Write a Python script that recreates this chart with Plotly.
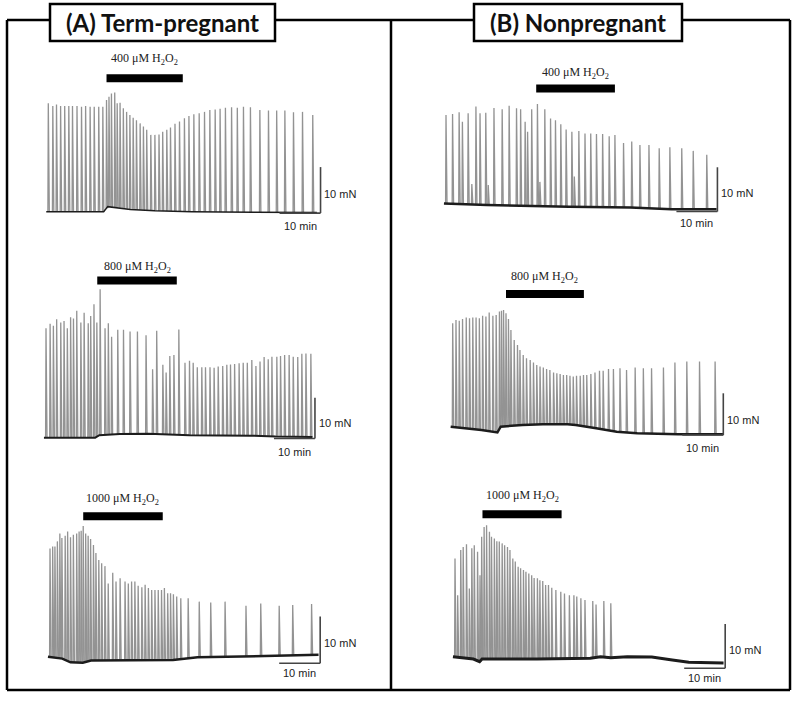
import numpy as np
import plotly.graph_objects as go

W, H = 799, 701

# ---------------- data (time in min, force in mN) ----------------
DOSES = ["400", "800", "1000"]
GROUPS = ["(A) Term-pregnant", "(B) Nonpregnant"]

A1_t = [0, 1.1, 2.0, 3.0, 4.0, 5.0, 5.9, 7.0, 8.1, 9.1, 10.2, 11.2, 12.3, 13.3, 14.2, 14.8, 15.4, 16.2, 16.8, 17.5,
        18.3, 19.1, 19.9, 20.7, 21.5, 22.4, 23.2, 24.0, 25.0, 26.0, 27.0, 27.9, 28.9, 29.8, 30.9, 32.0, 33.2, 34.3, 35.5, 36.8,
        38.1, 39.4, 40.7, 41.9, 43.2, 44.7, 46.1, 47.6, 49.3, 51.6, 53.7, 55.7, 57.7, 59.8, 62.0, 64.5]
A1_peak = [23.6, 23.0, 23.3, 23.0, 23.0, 23.0, 23.0, 23.0, 22.8, 23.0, 22.8, 22.8, 22.8, 22.8, 24.3, 25.0, 25.7, 25.9, 23.6, 23.7,
           22.5, 21.7, 21.0, 20.4, 19.9, 19.2, 18.5, 17.8, 16.7, 16.7, 16.8, 17.4, 17.8, 18.3, 19.1, 19.6, 20.3, 20.8, 21.2, 21.4,
           21.7, 22.1, 22.2, 22.4, 22.6, 22.7, 22.6, 22.8, 22.7, 22.1, 22.0, 22.0, 22.0, 21.6, 21.7, 21.0]
A1_base_t = [-0.5, 13.5, 14.5, 17, 20, 26, 35, 50, 65.5]
A1_base = [0, 0, 1.1, 0.9, 0.5, 0.2, 0, -0.1, -0.2]
A1_drug = [14.2, 32.8]

A2_t = [0, 1.0, 1.8, 2.6, 3.6, 4.4, 5.2, 6.0, 6.7, 7.5, 8.5, 9.3, 10.3, 10.9, 11.7, 12.4, 13.2, 14.4, 15.2, 16.0,
        17.5, 18.9, 20.5, 22.3, 24.4, 26.0, 27.0, 28.5, 29.3, 30.2, 31.2, 32.4, 33.9, 35.0, 35.9, 36.9, 38.0, 38.9, 40.0, 41.0,
        42.0, 43.1, 44.1, 45.0, 46.0, 47.1, 48.1, 49.1, 50.2, 51.2, 52.2, 53.2, 54.2, 55.1, 56.3, 57.2, 58.2, 59.3, 60.3, 61.4,
        62.4, 63.4, 64.6]
A2_peak = [26.9, 28.0, 27.5, 29.1, 28.3, 28.7, 26.9, 29.6, 29.3, 31.2, 28.3, 30.7, 28.1, 29.9, 32.8, 28.3, 36.5, 26.9, 28.1, 24.8,
           26.5, 26.5, 26.1, 26.1, 25.2, 16.8, 26.3, 17.9, 16.0, 20.1, 20.3, 26.6, 18.4, 18.9, 18.4, 17.3, 17.3, 17.3, 17.3, 17.2,
           17.5, 17.6, 17.9, 18.0, 18.1, 18.3, 18.4, 18.4, 19.1, 17.6, 18.7, 19.8, 19.3, 19.9, 19.9, 20.1, 20.3, 20.3, 19.9, 19.8,
           20.6, 20.7, 20.6]
A2_base_t = [-0.5, 12, 13, 18, 25, 30, 35, 50, 56, 65]
A2_base = [0, 0, 0.6, 0.9, 1.0, 0.8, 0.6, 0.5, 0.3, 0.2]
A2_drug = [12.5, 31.9]

A3_t = [0, 0.65, 1.2, 1.8, 2.4, 2.9, 3.7, 4.3, 5.0, 5.7, 6.5, 7.1, 7.6, 8.1, 8.7, 9.3, 9.9, 10.6, 11.2, 11.9,
        12.6, 13.4, 14.2, 15.3, 16.1, 17.1, 18.3, 19.1, 19.9, 20.7, 21.5, 22.4, 23.2, 24.0, 24.8, 25.6, 26.4, 27.2, 27.9, 28.7,
        29.4, 30.1, 30.9, 31.9, 33.7, 36.4, 39.2, 42.7, 47.8, 51.4, 55.9, 59.2, 63.8]
A3_peak = [23.9, 24.3, 24.3, 25.4, 27.1, 26.1, 26.6, 27.5, 26.3, 26.8, 27.1, 27.5, 27.7, 28.7, 27.1, 26.6, 25.9, 24.6, 22.9, 21.4,
           20.7, 20.1, 16.4, 18.7, 16.8, 17.5, 16.8, 16.4, 16.8, 16.8, 15.9, 15.6, 16.1, 15.4, 15.0, 15.0, 15.0, 15.0, 15.4, 14.3,
           14.3, 14.1, 13.6, 13.2, 13.2, 12.5, 12.3, 12.5, 11.6, 12.1, 11.6, 11.8, 12.0]
A3_base_t = [-0.5, 3, 5, 8, 10, 20, 30, 36, 45, 55, 65.5]
A3_base = [0.7, 0.3, -0.5, -0.6, -0.1, -0.1, 0, 0.6, 0.7, 0.9, 1.1]
A3_drug = [8.1, 27.5]

B1_t = [0, 1.6, 3.2, 4.0, 5.4, 6.3, 7.3, 8.3, 9.7, 10.3, 11.7, 13.7, 15.4, 17.2, 18.2, 19.3, 19.9, 20.9, 22.3, 22.9,
        24.1, 25.5, 26.7, 28.0, 29.3, 30.7, 31.3, 32.4, 33.9, 35.3, 36.7, 38.2, 39.8, 41.2, 43.3, 45.3, 47.3, 49.5, 52.0, 54.6,
        57.5, 60.3, 63.6]
B1_peak = [20.7, 20.9, 21.3, 19.2, 21.1, 5.1, 22.6, 21.1, 21.2, 4.9, 22.3, 22.0, 22.8, 22.2, 22.0, 19.2, 16.9, 22.0, 23.2, 5.6,
           22.0, 19.9, 19.5, 18.6, 17.4, 16.9, 6.8, 17.1, 16.5, 16.5, 16.4, 16.4, 15.9, 16.2, 14.4, 14.7, 13.9, 13.9, 13.2, 13.4,
           13.2, 12.6, 11.7]
B1_base_t = [-0.5, 10, 30, 45, 55, 66]
B1_base = [0.75, 0.4, 0, -0.2, -0.6, -0.6]
B1_drug = [22.0, 41.2]

B2_t = [0, 0.8, 1.6, 2.4, 3.3, 4.1, 4.9, 5.7, 6.5, 7.3, 8.1, 8.9, 9.8, 10.6, 11.4, 11.9, 12.4, 13.0, 13.6, 14.2,
        15.0, 15.8, 16.4, 17.2, 18.0, 18.9, 19.7, 20.5, 21.3, 22.1, 22.9, 23.7, 24.6, 25.4, 26.2, 27.0, 27.8, 28.6, 29.4, 30.2,
        31.1, 31.9, 32.7, 33.7, 34.7, 35.8, 36.7, 38.0, 39.2, 40.8, 42.4, 44.5, 46.5, 48.5, 51.4, 54.2, 57.1, 60.2, 64.0]
B2_peak = [25.6, 26.4, 26.2, 26.6, 27.0, 26.8, 27.0, 27.0, 26.8, 27.4, 27.2, 28.2, 27.4, 27.6, 28.4, 28.6, 28.8, 28.0, 26.6, 24.0,
           21.6, 20.4, 19.2, 18.0, 17.2, 16.8, 16.2, 15.6, 15.2, 15.0, 14.6, 14.4, 13.8, 13.6, 13.4, 13.2, 13.2, 13.0, 12.8, 13.0,
           13.0, 13.2, 13.2, 13.4, 13.8, 14.2, 14.2, 14.6, 14.6, 14.8, 14.4, 15.0, 14.8, 14.8, 15.0, 16.2, 16.4, 16.4, 16.4]
B2_base_t = [-0.5, 7, 10.9, 11.7, 17, 22, 28, 30, 35, 40, 45, 55, 66]
B2_base = [0.8, 0, -0.6, 0.8, 1.2, 1.4, 1.4, 1.2, 0.4, -0.4, -0.8, -1.0, -1.0]
B2_drug = [13.0, 32.0]

B3_t = [0, 0.65, 1.4, 2.0, 2.8, 3.5, 4.1, 4.7, 5.5, 6.1, 6.5, 7.1, 7.7, 8.4, 8.9, 9.6, 10.2, 10.8, 11.5, 12.1,
        12.8, 13.4, 14.1, 14.7, 15.4, 16.0, 16.7, 17.3, 18.0, 18.7, 19.3, 20.1, 20.7, 21.4, 22.1, 22.8, 23.6, 24.6, 25.8, 26.7,
        27.9, 29.0, 29.7, 30.7, 31.7, 33.6, 34.4, 36.3, 38.0]
B3_peak = [22.7, 14.4, 24.6, 25.3, 25.9, 15.9, 25.0, 25.7, 24.2, 18.9, 27.6, 29.8, 30.2, 28.7, 27.6, 27.2, 26.6, 26.5, 26.1, 25.7,
           25.3, 24.6, 22.7, 22.0, 20.8, 20.5, 20.1, 19.7, 19.3, 18.9, 18.3, 18.2, 17.8, 17.6, 16.7, 16.7, 16.1, 15.6, 15.2, 14.8,
           14.4, 14.4, 14.1, 13.7, 13.3, 13.1, 12.3, 13.1, 12.6]
B3_base_t = [-0.5, 4.5, 6.0, 6.6, 20, 33, 35.5, 38, 42, 48, 53, 57, 65.5]
B3_base = [0.5, 0, -0.6, 0, 0, 0.15, 0.5, 0.3, 0.5, 0.45, -0.2, -0.75, -0.9]
B3_drug = [6.7, 26.0]

SCALE_MN = 10   # scale bar, mN
SCALE_MIN = 10  # scale bar, min

# ---------------- table built from the arrays ----------------
panels = [
    dict(t=A1_t, p=A1_peak, bt=A1_base_t, b=A1_base, drug=A1_drug, dose=DOSES[0]),
    dict(t=A2_t, p=A2_peak, bt=A2_base_t, b=A2_base, drug=A2_drug, dose=DOSES[1]),
    dict(t=A3_t, p=A3_peak, bt=A3_base_t, b=A3_base, drug=A3_drug, dose=DOSES[2]),
    dict(t=B1_t, p=B1_peak, bt=B1_base_t, b=B1_base, drug=B1_drug, dose=DOSES[0]),
    dict(t=B2_t, p=B2_peak, bt=B2_base_t, b=B2_base, drug=B2_drug, dose=DOSES[1]),
    dict(t=B3_t, p=B3_peak, bt=B3_base_t, b=B3_base, drug=B3_drug, dose=DOSES[2]),
]

# ---------------- layout / geometry (pixels) ----------------
PX_PER_MIN = 4.1
geom = [
    dict(px0=48.3, py0=211.7, ppn=4.6, xd=(15, 385), yd=(45, 238), bar_y=29.0, lab_y=33.2, tv=66.4, ybot=-0.3, mn_y=3.8, min_y=-3.1, bw=1.5),
    dict(px0=46.0, py0=437.7, ppn=4.07, xd=(15, 385), yd=(250, 462), bar_y=38.6, lab_y=41.9, tv=65.6, ybot=-0.2, mn_y=3.6, min_y=-3.4, bw=2.0),
    dict(px0=50.0, py0=660.0, ppn=4.67, xd=(15, 385), yd=(480, 686), bar_y=30.8, lab_y=34.5, tv=65.9, ybot=-0.7, mn_y=3.6, min_y=-2.8, bw=2.5),
    dict(px0=446.0, py0=206.7, ppn=4.43, xd=(395, 786), yd=(45, 238), bar_y=26.7, lab_y=30.1, tv=66.2, ybot=-1.1, mn_y=3.0, min_y=-3.7, bw=2.5),
    dict(px0=452.7, py0=430.0, ppn=4.17, xd=(395, 786), yd=(250, 462), bar_y=32.6, lab_y=36.7, tv=66.0, ybot=-1.2, mn_y=2.4, min_y=-4.3, bw=2.5),
    dict(px0=455.0, py0=659.0, ppn=4.43, xd=(395, 786), yd=(480, 686), bar_y=32.7, lab_y=36.8, tv=65.9, ybot=-2.1, mn_y=2.0, min_y=-4.3, bw=3.0),
]

fig = go.Figure()
shapes, annotations, axes = [], [], {}

for i, (d, g) in enumerate(zip(panels, geom)):
    sfx = "" if i == 0 else str(i + 1)
    xr, yr = "x" + sfx, "y" + sfx
    xs, ys = [], []
    for t, p in zip(d["t"], d["p"]):
        b = float(np.interp(t, d["bt"], d["b"]))
        xs += [t - 0.1, t, t + 0.25, None]
        ys += [b, p, b, None]
    fig.add_trace(go.Scatter(x=xs, y=ys, mode="lines", line=dict(color="#939393", width=1.3),
                             xaxis=xr, yaxis=yr, hoverinfo="skip", showlegend=False))
    fig.add_trace(go.Scatter(x=d["bt"], y=d["b"], mode="lines", line=dict(color="#1c1c1c", width=g["bw"]),
                             xaxis=xr, yaxis=yr, hoverinfo="skip", showlegend=False))

    xl, xrt = g["xd"]
    yt, yb = g["yd"]
    axes["xaxis" + sfx] = dict(domain=[xl / W, xrt / W],
                               range=[(xl - g["px0"]) / PX_PER_MIN, (xrt - g["px0"]) / PX_PER_MIN],
                               visible=False, fixedrange=True, anchor=yr)
    axes["yaxis" + sfx] = dict(domain=[1 - yb / H, 1 - yt / H],
                               range=[-(yb - g["py0"]) / g["ppn"], (g["py0"] - yt) / g["ppn"]],
                               visible=False, fixedrange=True, anchor=xr)

    # drug application bar + label
    shapes.append(dict(type="line", xref=xr, yref=yr, x0=d["drug"][0], x1=d["drug"][1],
                       y0=g["bar_y"], y1=g["bar_y"], line=dict(color="black", width=8)))
    annotations.append(dict(xref=xr, yref=yr, x=(d["drug"][0] + d["drug"][1]) / 2, y=g["lab_y"],
                            xanchor="center", yanchor="middle",
                            text=f"{d['dose']} μM H<sub>2</sub>O<sub>2</sub>", showarrow=False,
                            font=dict(family="Liberation Serif", size=12, color="#222")))
    # scale bars
    shapes.append(dict(type="line", xref=xr, yref=yr, x0=g["tv"], x1=g["tv"],
                       y0=g["ybot"], y1=g["ybot"] + SCALE_MN, line=dict(color="#444", width=1.6)))
    shapes.append(dict(type="line", xref=xr, yref=yr, x0=g["tv"] - SCALE_MIN, x1=g["tv"],
                       y0=g["ybot"], y1=g["ybot"], line=dict(color="#444", width=1.6)))
    annotations.append(dict(xref=xr, yref=yr, x=g["tv"] + 0.4, y=g["mn_y"], xanchor="left", yanchor="middle",
                            text=f"{SCALE_MN} mN", showarrow=False,
                            font=dict(family="Liberation Sans", size=11, color="#222")))
    annotations.append(dict(xref=xr, yref=yr, x=g["tv"] - SCALE_MIN / 2, y=g["min_y"],
                            xanchor="center", yanchor="middle",
                            text=f"{SCALE_MIN} min", showarrow=False,
                            font=dict(family="Liberation Sans", size=11, color="#222")))

# ---------------- frame and group titles (paper coords) ----------------
def px(x):
    return x / W


def py(y):
    return 1 - y / H


frame = dict(color="black", width=2.5)
L, R, T, B, MID = 7, 790, 20, 690, 391
boxA = (50, 4, 275, 41)
boxB = (474, 4, 682, 41)
for (x0, y0, x1, y1) in [(L, T, L, B), (R, T, R, B), (L, B, R, B), (MID, T, MID, B), (L, T, R, T)]:
    shapes.append(dict(type="line", xref="paper", yref="paper", x0=px(x0), y0=py(y0), x1=px(x1), y1=py(y1), line=frame))
for (x0, y0, x1, y1), txt in zip([boxA, boxB], GROUPS):
    shapes.append(dict(type="rect", xref="paper", yref="paper", x0=px(x0), y0=py(y0), x1=px(x1), y1=py(y1),
                       line=frame, fillcolor="white", layer="above"))
    annotations.append(dict(xref="paper", yref="paper", x=px((x0 + x1) / 2), y=py((y0 + y1) / 2),
                            xanchor="center", yanchor="middle",
                            text=f"<b>{txt}</b>", showarrow=False,
                            font=dict(family="Lato", size=24, color="#111")))

fig.update_layout(width=W, height=H, margin=dict(l=0, r=0, t=0, b=0),
                  paper_bgcolor="white", plot_bgcolor="rgba(0,0,0,0)",
                  shapes=shapes, annotations=annotations, showlegend=False, **axes)

fig.write_html("out.html", config={"displayModeBar": False},
               post_script="document.body.style.margin='0';")
